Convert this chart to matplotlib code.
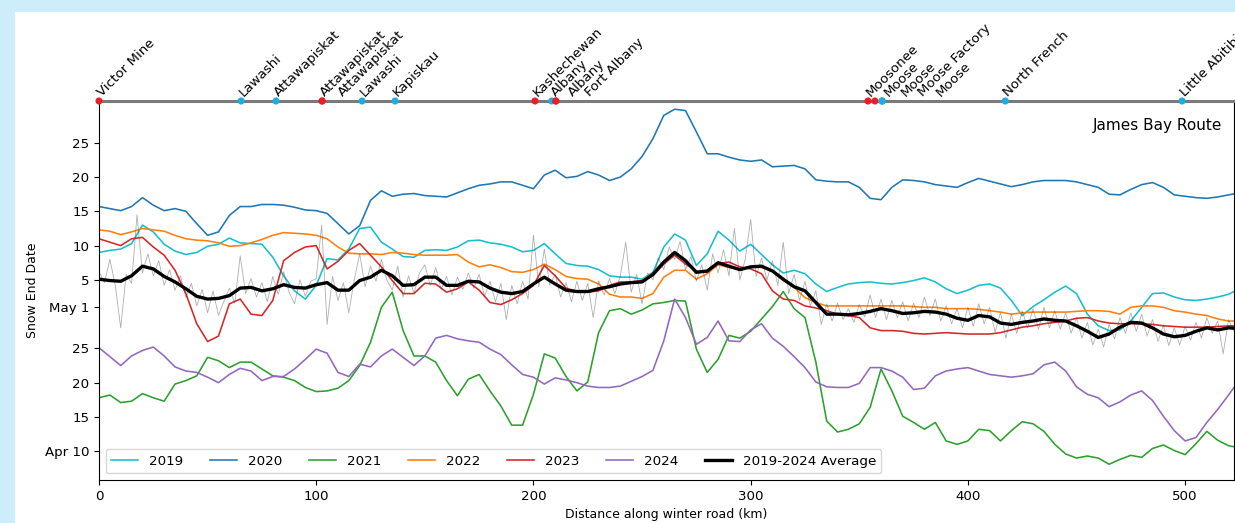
import numpy as np
import matplotlib
matplotlib.use("Agg")
import matplotlib.pyplot as plt
import matplotlib.transforms as mtransforms
from matplotlib.patches import Rectangle

plt.rcParams['font.family'] = ['DejaVu Sans']
plt.rcParams['font.size'] = 9.6

# Snow end date, in days after May 1, sampled every 5 km along the road
KM_STEP = 5.0
y2019 = [8.0, 8.3, 8.5, 9.3, 12.0, 11.0, 9.2, 8.2, 7.7, 8.0,
         8.9, 9.2, 10.1, 9.4, 9.3, 9.2, 7.3, 4.6, 2.4, 1.2,
         3.2, 7.1, 6.9, 8.5, 11.5, 11.7, 9.5, 8.5, 7.4, 7.3,
         8.3, 8.4, 8.3, 8.8, 9.7, 9.8, 9.4, 9.2, 8.8, 8.1,
         8.3, 9.3, 7.8, 6.4, 6.1, 6.0, 5.5, 4.6, 4.4, 4.4,
         4.1, 5.1, 8.8, 10.7, 9.8, 6.1, 7.8, 11.1, 9.8, 8.2,
         9.2, 7.7, 6.2, 5.0, 5.4, 4.9, 3.4, 2.3, 2.9, 3.4,
         3.6, 3.7, 3.5, 3.4, 3.6, 3.9, 4.3, 3.7, 2.7, 2.0,
         2.5, 3.2, 3.4, 2.8, 1.0, -1.2, 0.1, 1.1, 2.2, 3.1,
         2.0, -1.0, -2.7, -3.4, -3.3, -2.0, 0.0, 2.0, 2.1, 1.5,
         1.1, 1.0, 1.2, 1.5, 1.9, 2.7]
y2020 = [14.7, 14.4, 14.1, 14.7, 16.0, 14.9, 14.1, 14.4, 14.0, 12.2,
         10.5, 11.0, 13.4, 14.7, 14.7, 15.0, 15.0, 14.9, 14.6, 14.2,
         14.1, 13.7, 12.2, 10.7, 11.9, 15.6, 17.0, 16.2, 16.5, 16.6,
         16.3, 16.2, 16.1, 16.7, 17.3, 17.8, 18.0, 18.3, 18.3, 17.8,
         17.3, 19.3, 20.0, 18.9, 19.1, 19.8, 19.3, 18.5, 19.0, 20.2,
         22.0, 24.6, 28.0, 28.9, 28.7, 25.6, 22.4, 22.4, 21.9, 21.5,
         21.3, 21.5, 20.5, 20.6, 20.7, 20.2, 18.6, 18.4, 18.3, 18.3,
         17.5, 15.9, 15.7, 17.5, 18.6, 18.5, 18.3, 17.9, 17.7, 17.5,
         18.2, 18.8, 18.4, 18.0, 17.6, 17.9, 18.3, 18.5, 18.5, 18.5,
         18.3, 17.9, 17.5, 16.5, 16.4, 17.2, 17.9, 18.2, 17.5, 16.4,
         16.2, 16.0, 15.9, 16.1, 16.4, 16.7]
y2021 = [-13.2, -12.8, -13.9, -13.7, -12.6, -13.2, -13.7, -11.2, -10.7, -10.0,
         -7.3, -7.8, -8.8, -8.0, -8.0, -9.0, -10.0, -10.2, -10.7, -11.7,
         -12.3, -12.2, -11.8, -10.7, -8.5, -5.1, 0.0, 2.2, -3.4, -7.1,
         -7.1, -8.0, -10.7, -12.9, -10.5, -9.8, -12.2, -14.4, -17.2, -17.2,
         -12.7, -6.8, -7.4, -10.1, -12.2, -10.9, -3.7, -0.5, -0.2, -1.0,
         -0.4, 0.5, 0.7, 1.0, 0.9, -6.1, -9.5, -7.6, -4.1, -4.5,
         -3.5, -1.7, 0.1, 2.3, -0.2, -1.5, -8.0, -16.6, -18.2, -17.8,
         -17.0, -14.6, -9.0, -12.2, -15.9, -16.8, -17.8, -16.8, -19.5, -20.0,
         -19.5, -17.8, -18.0, -19.5, -18.0, -16.7, -17.0, -18.1, -20.0, -21.4,
         -22.0, -21.7, -22.0, -22.9, -22.2, -21.6, -21.9, -20.6, -20.1, -20.9,
         -21.5, -19.9, -18.1, -19.4, -20.2, -20.5]
y2022 = [11.3, 11.1, 10.6, 11.0, 11.5, 11.3, 11.1, 10.5, 10.0, 9.8,
         9.7, 9.4, 8.9, 9.0, 9.4, 9.9, 10.5, 10.9, 10.8, 10.7,
         10.5, 10.0, 8.8, 7.9, 7.8, 7.8, 7.7, 8.0, 7.9, 7.7,
         7.6, 7.6, 7.6, 7.7, 6.6, 5.9, 6.2, 5.8, 5.2, 5.1,
         5.5, 6.3, 5.5, 4.5, 4.2, 4.1, 3.4, 1.9, 1.5, 1.5,
         1.3, 2.0, 4.4, 5.4, 5.4, 4.1, 4.9, 6.2, 5.8, 5.5,
         5.9, 5.8, 5.3, 3.9, 2.9, 1.4, 0.7, 0.2, 0.2, 0.2,
         0.2, 0.2, 0.2, 0.2, 0.2, 0.1, 0.0, 0.0, -0.2, -0.2,
         -0.2, -0.3, -0.5, -0.7, -1.0, -0.8, -0.7, -0.7, -0.7, -0.7,
         -0.6, -0.5, -0.5, -0.6, -1.0, 0.0, 0.2, 0.2, 0.0, -0.5,
         -0.7, -1.0, -1.2, -1.7, -2.0, -2.0]
y2023 = [10.0, 9.5, 9.0, 10.0, 10.2, 8.8, 7.6, 5.4, 2.0, -2.4,
         -5.0, -4.2, 0.5, 1.2, -1.0, -1.2, 1.0, 6.8, 8.0, 8.8,
         9.0, 5.6, 6.7, 8.3, 9.3, 7.6, 5.9, 3.9, 2.0, 2.0,
         3.5, 3.4, 2.2, 2.7, 3.7, 2.5, 0.7, 0.4, 1.1, 2.0,
         3.2, 6.1, 4.6, 2.8, 2.3, 2.2, 2.4, 3.2, 3.7, 3.7,
         3.9, 4.6, 6.3, 7.6, 6.3, 5.3, 5.1, 6.4, 6.6, 5.9,
         5.6, 4.9, 2.4, 1.2, 1.0, 0.2, -0.1, -0.5, -1.0, -1.2,
         -1.5, -3.0, -3.4, -3.4, -3.5, -3.8, -3.9, -3.8, -3.7, -3.8,
         -3.9, -3.9, -3.9, -3.7, -3.3, -2.9, -2.7, -2.4, -2.2, -2.0,
         -1.6, -1.5, -2.0, -2.3, -2.4, -2.4, -2.4, -2.5, -2.7, -2.8,
         -2.9, -2.9, -2.9, -2.8, -2.7, -2.7]
y2024 = [-5.9, -7.2, -8.5, -7.1, -6.3, -5.8, -7.1, -8.7, -9.3, -9.5,
         -10.2, -11.0, -9.8, -8.9, -9.3, -10.7, -10.1, -10.1, -9.0, -7.6,
         -6.1, -6.7, -9.5, -10.1, -8.3, -8.7, -7.1, -6.1, -7.3, -8.5,
         -7.1, -4.5, -4.1, -4.6, -4.9, -5.1, -6.1, -6.9, -8.4, -9.8,
         -10.2, -11.2, -10.3, -10.6, -11.0, -11.5, -11.7, -11.7, -11.5, -10.8,
         -10.1, -9.2, -4.9, 1.2, -1.5, -5.4, -4.4, -2.0, -4.9, -5.0,
         -3.3, -2.4, -4.5, -5.7, -7.2, -8.8, -10.9, -11.6, -11.7, -11.7,
         -11.1, -8.8, -8.8, -9.3, -10.2, -12.0, -11.8, -10.0, -9.3, -9.0,
         -8.8, -9.3, -9.8, -10.0, -10.2, -10.0, -9.7, -8.4, -8.0, -9.3,
         -11.6, -12.7, -13.2, -14.5, -13.8, -12.8, -12.2, -13.6, -15.9, -18.0,
         -19.5, -19.0, -16.8, -14.9, -12.8, -10.6]
avg_smooth = [4.1, 3.9, 3.8, 4.6, 6.0, 5.6, 4.5, 3.7, 2.7, 1.6,
              1.2, 1.3, 1.7, 2.8, 2.9, 2.4, 2.7, 3.3, 2.9, 2.8,
              3.3, 3.6, 2.5, 2.5, 3.9, 4.4, 5.4, 4.6, 3.2, 3.3,
              4.4, 4.4, 3.2, 3.2, 3.8, 3.7, 2.8, 2.2, 2.0, 2.3,
              3.4, 4.4, 3.4, 2.5, 2.3, 2.3, 2.7, 3.0, 3.4, 3.6,
              3.7, 4.8, 6.6, 8.0, 6.8, 5.1, 5.3, 6.5, 6.0, 5.5,
              5.9, 6.0, 5.3, 4.1, 3.0, 2.4, 0.7, -1.0, -1.0, -1.1,
              -0.9, -0.6, -0.2, -0.5, -0.9, -0.8, -0.6, -0.7, -1.0, -1.6,
              -1.9, -1.2, -1.4, -2.3, -2.5, -2.2, -2.0, -1.7, -1.9, -2.0,
              -2.7, -3.5, -4.4, -3.9, -2.9, -2.2, -2.3, -3.0, -3.9, -4.3,
              -4.1, -3.5, -3.0, -3.3, -3.0, -3.1]

# Unsmoothed route average, every 2.5 km
RAW_STEP = 2.5
avg_raw = [5.2, 3.6, 7.0, 3.2, -3.0, 4.8, 3.5, 13.5, 5.0, 7.8,
           4.6, 6.8, 3.2, 5.5, 2.5, 4.6, 1.4, 3.5, 0.2, 2.6,
           -0.8, 2.4, -1.2, 0.9, 2.8, 0.6, 7.5, 2.0, 4.2, 1.5,
           3.6, 0.8, 4.5, 1.9, 5.2, 2.2, 0.5, 4.0, 1.6, 3.8,
           4.2, 12.0, -2.5, 4.5, 1.0, 3.6, -0.8, 4.0, 7.8, 3.0,
           6.0, 3.8, 7.0, 4.0, 2.5, 6.0, 1.5, 4.6, 2.0, 5.0,
           6.2, 3.2, 5.8, 2.6, 4.5, 1.8, 4.4, 2.6, 5.0, 2.8,
           4.8, 1.6, 3.8, 0.8, 3.5, -1.8, 3.2, 0.5, 3.8, 1.2,
           10.5, 3.0, 8.5, 3.2, 4.8, 1.5, 3.6, 0.8, 3.8, 1.0,
           3.5, -1.5, 3.9, 1.8, 4.2, 2.0, 4.6, 9.5, 2.2, 4.8,
           0.5, 5.0, 4.0, 7.2, 5.5, 8.8, 7.0, 9.6, 5.5, 7.4,
           3.8, 6.2, 2.5, 7.8, 5.0, 8.4, 4.6, 11.5, 4.0, 7.0,
           12.8, 4.5, 7.2, 4.0, 6.8, 3.2, 9.5, 2.0, 4.8, 1.0,
           3.8, 0.2, 2.4, -2.5, 0.5, -2.0, 0.6, -1.8, -0.2, -2.2,
           0.4, -1.4, 1.8, -1.5, 1.2, -1.8, 1.0, -1.5, 0.8, -2.0,
           0.6, -1.5, 1.5, -1.2, 1.2, -2.0, 0.2, -2.4, -0.2, -3.0,
           0.0, -2.8, 0.5, -2.4, 0.0, -3.6, -0.8, -4.5, -1.0, -3.8,
           -0.5, -3.0, -0.2, -3.2, 0.0, -3.0, -0.5, -3.2, -0.8, -3.8,
           -1.5, -4.5, -2.2, -5.5, -3.2, -5.8, -2.5, -4.6, -1.5, -3.8,
           -0.8, -3.5, -1.0, -4.2, -1.8, -5.0, -2.6, -5.6, -3.0, -5.5,
           -2.8, -4.8, -2.2, -4.5, -1.5, -3.8, -2.0, -6.8, -1.8, -3.5,
           -2.5]

years = ['2019', '2020', '2021', '2022', '2023', '2024']
year_colors = ['#17becf', '#1f77b4', '#2ca02c', '#ff7f0e', '#d62728', '#9467bd']
year_values = [y2019, y2020, y2021, y2022, y2023, y2024]

# Points of interest along the route
place_names = ['Victor Mine', 'Lawashi', 'Attawapiskat', 'Attawapiskat', 'Attawapiskat',
               'Lawashi', 'Kapiskau', 'Kashechewan', 'Albany', 'Albany', 'Fort Albany',
               'Moosonee', 'Moose', 'Moose', 'Moose Factory', 'Moose',
               'North French', 'Little Abitibi']
place_km = [0.0, 65.4, 81.5, 102.7, 102.7, 121.1, 136.3, 200.7, 208.4, 210.3, 210.3,
            354.0, 357.2, 360.5, 360.5, 360.5, 417.2, 498.6]
place_colors = ['#ee1c25', '#1aaee6', '#1aaee6', '#ee1c25', '#ee1c25', '#1aaee6', '#1aaee6',
                '#ee1c25', '#1aaee6', '#ee1c25', '#ee1c25', '#ee1c25', '#ee1c25', '#1aaee6',
                '#1aaee6', '#1aaee6', '#1aaee6', '#1aaee6']

tick_days = [-21, -16, -11, -6, 0, 4, 9, 14, 19, 24]
tick_labels = ['Apr 10', '15', '20', '25', 'May 1', '5', '10', '15', '20', '25']

W, H = 1235, 523
fig = plt.figure(figsize=(W / 100, H / 100), dpi=100)
fig.patch.set_facecolor('#cdedfb')
fig.add_artist(Rectangle((15 / W, 0), 1, 1 - 12 / H, transform=fig.transFigure,
                         facecolor='white', edgecolor='none', zorder=-10))
ax = fig.add_axes([99 / W, 1 - 480 / H, 1135 / W, 379 / H])

for vals, col, lab in zip(year_values, year_colors, years):
    km = np.arange(len(vals)) * KM_STEP
    ax.plot(km, vals, color=col, lw=1.15, label=lab, zorder=2)

raw_km = np.arange(len(avg_raw)) * RAW_STEP
ax.plot(raw_km, avg_raw, color='0.3', lw=0.6, alpha=0.45, zorder=2.5)
avg_km = np.arange(len(avg_smooth)) * KM_STEP
ax.plot(avg_km, avg_smooth, color='black', lw=2.4, label='2019-2024 Average', zorder=3)

ax.set_xlim(0, 522.5)
ax.set_ylim(-25.2, 30.1)
ax.set_xticks([0, 100, 200, 300, 400, 500])
ax.set_yticks(tick_days)
ax.set_yticklabels(tick_labels)
ax.tick_params(labelsize=9.6)
ax.set_xlabel('Distance along winter road (km)', fontsize=9)
ax.set_ylabel('Snow End Date', fontsize=9)

# The route itself runs along the top edge
ax.spines['top'].set_color('#7a7a7a')
ax.spines['top'].set_linewidth(2.2)

xform = ax.get_xaxis_transform()
ax.scatter(place_km, [1.0] * len(place_km), transform=xform, c=place_colors,
           s=26, zorder=6, clip_on=False, edgecolors='none')

# Spread labels of neighbouring places so they do not sit on top of each other
label_km = []
for k in place_km:
    if label_km and k < label_km[-1] + 8.0:
        k = label_km[-1] + 8.0
    label_km.append(k)
label_shift = mtransforms.ScaledTranslation(3 / 100, 4 / 100, fig.dpi_scale_trans)
for name, lk in zip(place_names, label_km):
    ax.text(lk, 1.0, name, transform=xform + label_shift, rotation=45,
            rotation_mode='anchor', ha='left', va='baseline', fontsize=9.6,
            clip_on=False)

ax.text(0.99, 0.955, 'James Bay Route', transform=ax.transAxes,
        ha='right', va='top', fontsize=11)

ax.legend(loc='lower left', ncol=7, fontsize=9.7, framealpha=0.8)

fig.savefig('out.png', dpi=100, facecolor=fig.get_facecolor())
